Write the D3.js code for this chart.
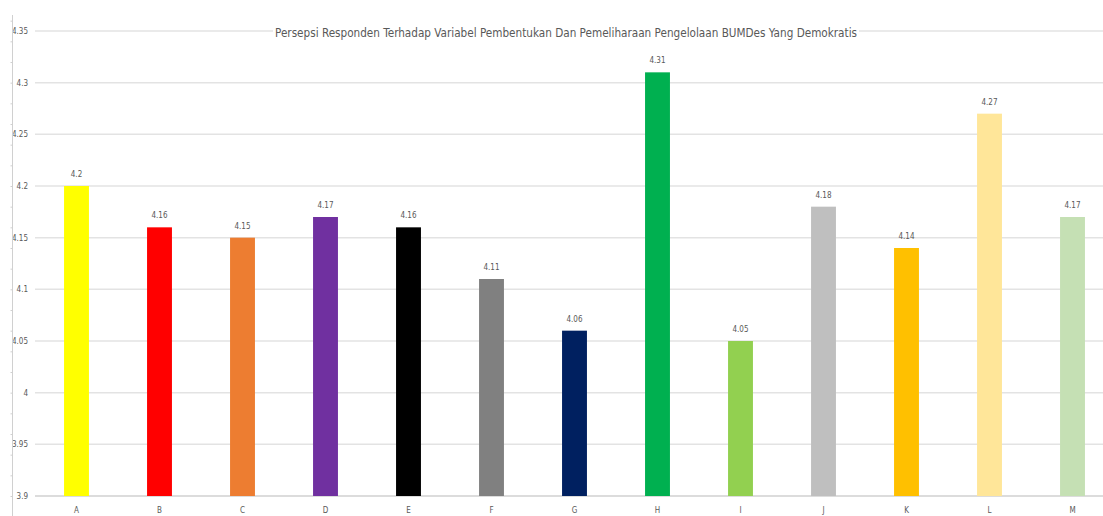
<!DOCTYPE html>
<html>
<head>
<meta charset="utf-8">
<script src="https://cdn.jsdelivr.net/npm/d3@7"></script>
<style>
  body { margin: 0; background: #fff; }
  text { font-family: "Liberation Sans Narrow", "DejaVu Sans Condensed", "Open Sans", sans-serif; fill: #595959; }
</style>
</head>
<body>
<script>
// chart data
var categories = ["A", "B", "C", "D", "E", "F", "G", "H", "I", "J", "K", "L", "M"];
var values = [4.2, 4.16, 4.15, 4.17, 4.16, 4.11, 4.06, 4.31, 4.05, 4.18, 4.14, 4.27, 4.17];
var colors = ["#FFFF00", "#FF0000", "#ED7D31", "#7030A0", "#000000", "#808080", "#002060",
              "#00B050", "#92D050", "#BFBFBF", "#FFC000", "#FFE699", "#C5E0B4"];
var yTicks = [3.9, 3.95, 4, 4.05, 4.1, 4.15, 4.2, 4.25, 4.3, 4.35];
var title = "Persepsi Responden Terhadap Variabel Pembentukan Dan Pemeliharaan Pengelolaan BUMDes Yang Demokratis";

window.onload = drawChart();

function drawChart(){
    var width = 1103,
        height = 516;

    var svg = d3.select("body")
        .append("svg")
        .attr("width", width)
        .attr("height", height);

    // plot area runs a little past the right edge, as in the original
    var x = d3.scaleBand()
        .domain(categories)
        .range([35, 1114])
        .paddingInner(0.7)
        .paddingOuter(0.35);

    var y = d3.scaleLinear()
        .domain([3.9, 4.35])
        .range([496, 31]);

    // gridlines
    svg.append("g")
        .selectAll("line")
        .data(yTicks)
        .enter()
        .append("line")
        .attr("x1", 35)
        .attr("x2", width)
        .attr("y1", function(d){ return y(d); })
        .attr("y2", function(d){ return y(d); })
        .attr("stroke", function(d){ return d === 3.9 ? "#d0d0d0" : "#e3e3e3"; })
        .attr("stroke-width", 1.5);

    // white backing behind the title (sits over the top gridline)
    var titleBg = svg.append("rect").attr("fill", "#fff");

    // y tick labels
    svg.append("g")
        .selectAll("text")
        .data(yTicks)
        .enter()
        .append("text")
        .attr("x", 28)
        .attr("y", function(d){ return y(d) + 3; })
        .attr("text-anchor", "end")
        .attr("font-size", 8)
        .text(function(d){ return d3.format("")(d); });

    // thin left axis line with small ticks
    var minor = d3.axisLeft(y)
        .tickValues(d3.range(3.88, 4.38, 0.02))
        .tickSize(2)
        .tickFormat("");
    var ax = svg.append("g")
        .attr("transform", "translate(12.5,0)")
        .call(minor);
    ax.select(".domain").remove();
    ax.selectAll("line").attr("stroke", "#d0d0d0");
    ax.append("line")
        .attr("y1", 15)
        .attr("y2", height)
        .attr("stroke", "#d0d0d0");

    // bars
    svg.append("g")
        .selectAll("rect")
        .data(values)
        .enter()
        .append("rect")
        .attr("x", function(d, i){ return x(categories[i]); })
        .attr("y", function(d){ return y(d); })
        .attr("width", x.bandwidth())
        .attr("height", function(d){ return y(3.9) - y(d); })
        .attr("fill", function(d, i){ return colors[i]; });

    // value labels
    svg.append("g")
        .selectAll("text")
        .data(values)
        .enter()
        .append("text")
        .attr("x", function(d, i){ return x(categories[i]) + x.bandwidth() / 2; })
        .attr("y", function(d){ return y(d) - 9; })
        .attr("text-anchor", "middle")
        .attr("font-size", 8)
        .text(function(d){ return d; });

    // category labels
    svg.append("g")
        .selectAll("text")
        .data(categories)
        .enter()
        .append("text")
        .attr("x", function(d){ return x(d) + x.bandwidth() / 2; })
        .attr("y", 513)
        .attr("text-anchor", "middle")
        .attr("font-size", 8)
        .text(function(d){ return d; });

    // title
    var t = svg.append("text")
        .attr("x", 566)
        .attr("y", 37)
        .attr("text-anchor", "middle")
        .attr("font-size", 13)
        .attr("textLength", 582)
        .attr("lengthAdjust", "spacingAndGlyphs")
        .text(title);
    var bb = t.node().getBBox();
    titleBg
        .attr("x", bb.x - 2)
        .attr("y", bb.y)
        .attr("width", bb.width + 4)
        .attr("height", bb.height);
};
</script>
</body>
</html>
